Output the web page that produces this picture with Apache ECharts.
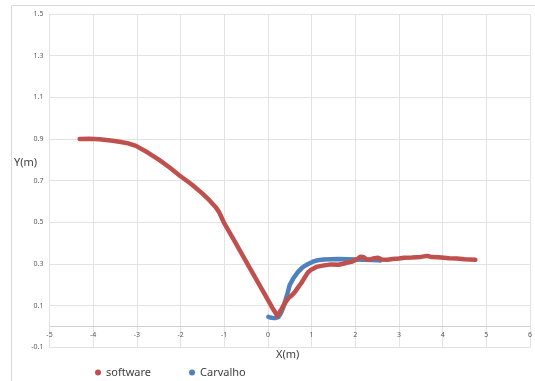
<!DOCTYPE html>
<html>
<head>
<meta charset="utf-8">
<script src="https://cdn.jsdelivr.net/npm/echarts@6/dist/echarts.min.js"></script>
<style>
  html, body { margin: 0; padding: 0; background: #ffffff; }
  #chart { width: 535px; height: 381px; }
</style>
</head>
<body>
<div id="chart"></div>
<script>
// Trajectory traced by the software (x, y in metres)
const softwareX = [-4.31, -4.10, -3.86, -3.60, -3.40, -3.20, -3.02, -2.75, -2.49, -2.25, -2.03, -1.75, -1.51, -1.33, -1.20, -1.12,
  -1.01, -0.75, -0.44, -0.10, 0.10, 0.22, 0.30, 0.40, 0.47, 0.55, 0.62, 0.70, 0.77, 0.85, 0.92, 1.00, 1.11, 1.25, 1.45,
  1.61, 1.70, 1.83, 1.91, 2.00, 2.06, 2.12, 2.18, 2.21, 2.26, 2.30, 2.36, 2.44, 2.52, 2.60, 2.74, 2.85, 3.00, 3.12, 3.30,
  3.50, 3.65, 3.75, 3.90, 4.03, 4.15, 4.33, 4.50, 4.62, 4.75];
const softwareY = [0.900, 0.901, 0.899, 0.893, 0.887, 0.879, 0.867, 0.835, 0.800, 0.763, 0.726, 0.683, 0.640, 0.604, 0.574, 0.550,
  0.500, 0.405, 0.290, 0.165, 0.090, 0.050, 0.080, 0.115, 0.136, 0.150, 0.166, 0.190, 0.210, 0.238, 0.260, 0.274, 0.286, 0.292, 0.298,
  0.296, 0.300, 0.307, 0.310, 0.318, 0.326, 0.335, 0.334, 0.338, 0.322, 0.330, 0.323, 0.328, 0.330, 0.322, 0.320, 0.324, 0.326, 0.330, 0.331,
  0.334, 0.339, 0.333, 0.332, 0.330, 0.328, 0.326, 0.323, 0.322, 0.320];

// Reference trajectory (Carvalho)
const carvalhoX = [0.01, 0.08, 0.16, 0.24, 0.30, 0.35, 0.39, 0.45, 0.50, 0.58, 0.69, 0.80, 0.92, 1.03, 1.14, 1.28, 1.44, 1.61,
  1.83, 2.00, 2.20, 2.38, 2.52, 2.58];
const carvalhoY = [0.046, 0.042, 0.040, 0.045, 0.065, 0.090, 0.118, 0.160, 0.200, 0.230, 0.262, 0.285, 0.300, 0.311, 0.318, 0.321, 0.323, 0.324,
  0.323, 0.322, 0.320, 0.319, 0.318, 0.317];

const seriesNames = ['software', 'Carvalho'];
const seriesColors = ['#C0504D', '#4F81BD'];

const zip = (xs, ys) => xs.map((x, i) => [x, ys[i]]);

const chart = echarts.init(document.getElementById('chart'), null, { renderer: 'canvas' });

const labelStyle = { color: '#595959', fontSize: 7, fontFamily: 'Noto Sans' };
const gridLine = { show: true, lineStyle: { color: '#e3e3e3', width: 1 } };

chart.setOption({
  animation: false,
  backgroundColor: '#ffffff',
  grid: { left: 49.5, right: 1.5, top: 14, bottom: 33.7, containLabel: false },
  xAxis: {
    type: 'value',
    min: -5, max: 6, interval: 1,
    // axis sits on y = 0, raised from the bottom edge of the plot
    offset: -21,
    axisLine: { show: true, onZero: false, lineStyle: { color: '#d0d0d0', width: 1 } },
    axisTick: { show: false },
    axisLabel: Object.assign({ margin: 5 }, labelStyle),
    splitLine: gridLine
  },
  yAxis: {
    type: 'value',
    min: -0.1, max: 1.5, interval: 0.2,
    axisLine: { show: false, onZero: false },
    axisTick: { show: false },
    axisLabel: Object.assign({ margin: 6, formatter: v => (Math.round(v * 10) / 10).toFixed(1) }, labelStyle),
    splitLine: gridLine
  },
  legend: {
    data: seriesNames,
    left: 90, top: 362,
    icon: 'circle',
    itemWidth: 6, itemHeight: 6,
    itemGap: 38,
    textStyle: { color: '#404040', fontSize: 11, fontFamily: 'Noto Sans' }
  },
  graphic: [
    { type: 'rect', shape: { x: 11.5, y: 5.5, width: 600, height: 500 },
      style: { fill: 'none', stroke: '#d9d9d9', lineWidth: 1 }, silent: true, z: -10 },
    { type: 'text', left: 14, top: 157,
      style: { text: 'Y(m)', fill: '#404040', font: '11px "Noto Sans"' } },
    { type: 'text', left: 276, top: 349,
      style: { text: 'X(m)', fill: '#404040', font: '11px "Noto Sans"' } }
  ],
  series: [
    {
      name: seriesNames[1], type: 'line', data: zip(carvalhoX, carvalhoY),
      showSymbol: false, symbol: 'circle', color: seriesColors[1],
      lineStyle: { width: 4.5, color: seriesColors[1], cap: 'round', join: 'round' },
      z: 2
    },
    {
      name: seriesNames[0], type: 'line', data: zip(softwareX, softwareY),
      showSymbol: false, symbol: 'circle', color: seriesColors[0],
      lineStyle: { width: 4.5, color: seriesColors[0], cap: 'round', join: 'round' },
      z: 3
    }
  ]
});
</script>
</body>
</html>
